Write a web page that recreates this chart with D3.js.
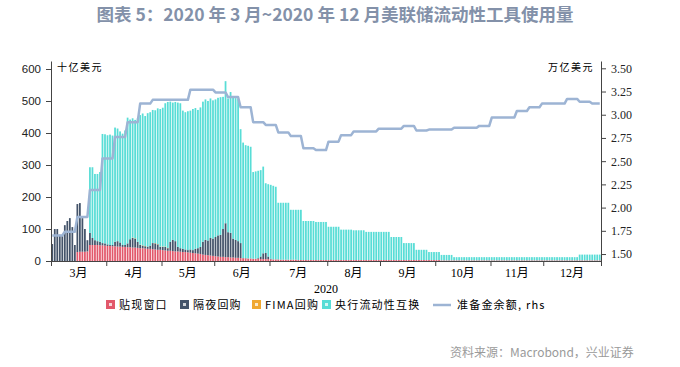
<!DOCTYPE html>
<html>
<head>
<meta charset="utf-8">
<script src="https://cdn.jsdelivr.net/npm/d3@7"></script>
<style>
body { margin: 0; background: #fff; }
svg { display: block; font-family: "Noto Sans CJK SC", sans-serif; }
</style>
</head>
<body>
<div id="root"></div>
<script>
const WIDTH = 680;
const HEIGHT = 367;
const plot = { left: 51, right: 601, top: 61, bottom: 261 };

// business days, 2 Mar 2020 - 31 Dec 2020 (one row per week)
const dates = d3.utcDays(new Date(Date.UTC(2020, 2, 1)), new Date(Date.UTC(2021, 0, 1)))
    .filter(d => d.getUTCDay() % 6 !== 0);

const monthLabels = ['3月', '4月', '5月', '6月', '7月', '8月', '9月', '10月', '11月', '12月'];
const yearLabel = '2020';

// 十亿美元
const discountWindow = [
    0,0,0,0,0,  0,0,0,0,0,  28,29,29,29,30,  50,50,50,50,49,
    49,48,47,47,46,  46,45,45,44,44,  43,43,42,42,41,  40,40,39,38,38,  37,36,35,35,34,
    33,32,32,31,30,  30,29,28,28,27,  26,25,24,23,22,  20,19,18,17,16,
    15,14,13,13,12,  12,11,11,10,10,  9,9,8,8,8,  7,7,7,6,6,
    6,6,5,5,5,  5,4,4,4,4,  4,4,4,3,3,  3,3,3,3,3,  3,3,3,3,3,
    3,3,3,3,3,  3,3,3,3,3,  3,3,3,3,3,  3,3,3,3,3,
    3,3,3,3,3,  3,3,3,3,3,  3,3,3,3,3,  3,3,3,3,3,  3,3,3,3,3,
    2,2,2,2,2,  2,2,2,2,2,  2,2,2,2,2,  2,2,2,2,2,
    2,2,2,2,2,  2,2,2,2,2,  2,2,2,2,2,  2,2,2,2,2,
    2,2,2,2,2,  2,2,2,2,2,  2,2,2,2,2,  2,2,2,2,2,  2,2,2,2
];

const overnightRepo = [
    53,100,100,82,80,  112,125,134,106,50,  150,152,105,71,35,  38,22,15,12,11,
    7,7,5,3,4,  14,17,13,6,6,  12,25,30,28,19,  10,8,7,7,10,  19,19,17,9,10,
    11,8,28,35,32,  14,11,10,8,7,  10,9,14,17,22,  40,47,46,55,54,
    60,66,69,87,106,  78,77,59,56,52,  47,0,1,0,0,  0,0,2,8,18,
    19,8,2,0,0,  0,0,0,0,0,  0,0,0,0,0,  0,0,0,0,0,  0,0,0,0,0,
    0,0,0,0,0,  0,0,0,0,0,  0,0,0,0,0,  0,0,0,0,0,
    0,0,0,0,0,  0,0,0,0,0,  0,0,0,0,0,  0,0,0,0,0,  0,0,0,0,0,
    0,0,0,0,0,  0,0,0,0,0,  0,0,0,0,0,  0,0,0,0,0,
    0,0,0,0,0,  0,0,0,0,0,  0,0,0,0,0,  0,0,0,0,0,
    0,0,0,0,0,  0,0,0,0,0,  0,0,0,0,0,  0,0,0,0,0,  0,0,0,0
];

const fimaRepo = [
    0,0,0,0,0,  0,0,0,0,0,  0,0,0,0,0,  0,0,0,0,0,
    0,0,0,0,0,  0,0,0,0,0,  0,0,1,1,0,  1,1,1,0,0,  0,1,1,1,1,
    1,1,0,0,0,  0,0,0,0,0,  0,0,0,0,0,  0,0,0,0,0,
    0,0,0,0,0,  0,0,0,0,0,  0,0,0,0,0,  0,0,0,0,0,
    0,0,0,0,0,  0,0,0,0,0,  0,0,0,0,0,  0,0,0,0,0,  0,0,0,0,0,
    0,0,0,0,0,  0,0,0,0,0,  0,0,0,0,0,  0,0,0,0,0,
    0,0,0,0,0,  0,0,0,0,0,  0,0,0,0,0,  0,0,0,0,0,  0,0,0,0,0,
    0,0,0,0,0,  0,0,0,0,0,  0,0,0,0,0,  0,0,0,0,0,
    0,0,0,0,0,  0,0,0,0,0,  0,0,0,0,0,  0,0,0,0,0,
    0,0,0,0,0,  0,0,0,0,0,  0,0,0,0,0,  0,0,0,0,0,  0,0,0,0
];

const cbSwaps = [
    0,0,0,0,0,  0,0,0,0,0,  0,0,0,0,0,  205,221,207,210,218,
    341,341,341,345,342,  357,352,347,348,358,  393,374,373,370,386,  405,412,406,417,417,  416,415,424,430,434,
    448,456,438,429,435,  451,453,432,429,434,  434,441,440,432,436,  438,439,436,436,432,
    430,430,430,413,444,  418,440,440,443,444,  356,361,353,352,349,  271,273,273,270,271,
    218,226,231,230,227,  177,178,178,178,178,  156,156,156,157,157,  122,122,122,122,122,  119,119,119,119,119,
    104,104,104,104,104,  95,95,95,95,95,  93,93,93,93,93,  88,88,88,88,88,
    88,88,88,88,88,  72,72,72,72,72,  53,53,53,53,53,  32,32,32,32,32,  25,25,25,25,25,
    17,17,17,17,17,  10,10,10,10,10,  10,10,10,10,10,  10,10,10,10,10,
    10,10,10,10,10,  10,10,10,10,10,  10,10,10,10,10,  10,10,10,10,10,
    10,10,10,10,10,  10,10,10,10,10,  10,10,10,10,10,  18,18,18,18,18,  18,18,18,18
];

// 万亿美元, rhs
const reserves = [
    1.70,1.70,1.70,1.70,1.70,  1.74,1.74,1.74,1.74,1.74,  1.90,1.90,1.90,1.90,1.90,  2.19,2.19,2.19,2.19,2.19,
    2.53,2.53,2.53,2.53,2.53,  2.76,2.76,2.76,2.76,2.76,  2.92,2.92,2.92,2.92,2.92,  3.12,3.12,3.12,3.12,3.12,  3.16,3.16,3.16,3.16,3.16,
    3.16,3.16,3.16,3.16,3.16,  3.16,3.16,3.16,3.16,3.16,  3.27,3.27,3.27,3.27,3.27,  3.27,3.27,3.27,3.27,3.27,
    3.24,3.24,3.24,3.24,3.24,  3.19,3.19,3.19,3.19,3.19,  3.08,3.08,3.08,3.08,3.08,  2.92,2.92,2.92,2.92,2.92,
    2.89,2.89,2.89,2.89,2.89,  2.81,2.81,2.81,2.81,2.81,  2.77,2.77,2.77,2.77,2.77,  2.64,2.64,2.64,2.64,2.64,  2.62,2.62,2.62,2.62,2.62,
    2.71,2.71,2.71,2.71,2.71,  2.78,2.78,2.78,2.78,2.78,  2.82,2.82,2.82,2.82,2.82,  2.82,2.82,2.82,2.82,2.82,
    2.85,2.85,2.85,2.85,2.85,  2.85,2.85,2.85,2.85,2.85,  2.88,2.88,2.88,2.88,2.88,  2.83,2.83,2.83,2.83,2.83,  2.84,2.84,2.84,2.84,2.84,
    2.84,2.84,2.84,2.84,2.84,  2.86,2.86,2.86,2.86,2.86,  2.86,2.86,2.86,2.86,2.86,  2.88,2.88,2.88,2.88,2.88,
    2.97,2.97,2.97,2.97,2.97,  2.97,2.97,2.97,2.97,2.97,  3.04,3.04,3.04,3.04,3.04,  3.08,3.08,3.08,3.08,3.08,
    3.12,3.12,3.12,3.12,3.12,  3.12,3.12,3.12,3.12,3.12,  3.17,3.17,3.17,3.17,3.17,  3.14,3.14,3.14,3.14,3.14,  3.12,3.12,3.12,3.12
];

const leftTicks = [0, 100, 200, 300, 400, 500, 600];
const rightTicks = [1.50, 1.75, 2.00, 2.25, 2.50, 2.75, 3.00, 3.25, 3.50];

const keys = ['discountWindow', 'overnightRepo', 'fimaRepo', 'cbSwaps'];
const names = ['贴现窗口', '隔夜回购', 'FIMA回购', '央行流动性互换'];
const colors = ['#e2586b', '#44546a', '#f0a830', '#58ddd6'];
const lineColor = '#9db4d4';

const table = dates.map((d, i) => ({
    i: i,
    date: d,
    discountWindow: discountWindow[i],
    overnightRepo: overnightRepo[i],
    fimaRepo: fimaRepo[i],
    cbSwaps: cbSwaps[i],
    reserves: reserves[i]
}));

const n = table.length;
const x = d3.scaleBand().domain(d3.range(n)).range([plot.left, plot.right])
    .paddingInner(0.3).paddingOuter(0.15);
const xIdx = d3.scaleLinear().domain([0, n]).range([plot.left, plot.right]);
const yL = d3.scaleLinear().domain([0, 625]).range([plot.bottom, plot.top]);
const yR = d3.scaleLinear().domain([1.425, 3.5786]).range([plot.bottom, plot.top]);

const svg = d3.select('#root').append('svg')
    .attr('width', WIDTH)
    .attr('height', HEIGHT);

svg.append('text')
    .attr('x', 335)
    .attr('y', 21)
    .attr('text-anchor', 'middle')
    .style('font-size', '17.5px')
    .style('font-weight', 700)
    .style('fill', '#8391a9')
    .style('white-space', 'pre')
    .text('图表 5：2020 年 3 月~2020 年 12 月美联储流动性工具使用量');

// stacked bars
const series = d3.stack().keys(keys)(table);
svg.append('g').selectAll('g')
    .data(series)
    .enter().append('g')
        .attr('fill', (d, i) => colors[i])
    .selectAll('rect')
    .data(d => d.filter(p => p[1] > p[0]))
    .enter().append('rect')
        .attr('x', d => x(d.data.i))
        .attr('width', x.bandwidth())
        .attr('y', d => yL(d[1]))
        .attr('height', d => yL(d[0]) - yL(d[1]));

// reserves line
const line = d3.line()
    .x(d => x(d.i) + x.bandwidth() / 2)
    .y(d => yR(d.reserves));
svg.append('path')
    .datum(table)
    .attr('fill', 'none')
    .attr('stroke', lineColor)
    .attr('stroke-width', 2.5)
    .attr('stroke-linejoin', 'round')
    .attr('d', line);

// axes
const monthStart = [];
table.forEach((d, i) => {
    if (i === 0 || d.date.getUTCMonth() !== table[i - 1].date.getUTCMonth()) monthStart.push(i);
});
const bounds = monthStart.concat([n]);

const xAxis = svg.append('g')
    .attr('class', 'axis')
    .attr('transform', `translate(0, ${plot.bottom})`)
    .call(d3.axisBottom(xIdx).tickValues(bounds).tickFormat('').tickSize(5).tickSizeOuter(0));

svg.append('g')
    .selectAll('text')
    .data(monthLabels)
    .enter().append('text')
        .attr('x', (d, i) => (xIdx(bounds[i]) + xIdx(bounds[i + 1])) / 2)
        .attr('y', 277)
        .attr('text-anchor', 'middle')
        .style('font-family', '"Liberation Serif", "Noto Sans CJK SC"')
        .style('font-size', '12px')
        .text(d => d);

svg.append('text')
    .attr('x', 326)
    .attr('y', 293)
    .attr('text-anchor', 'middle')
    .style('font-family', '"Liberation Serif"')
    .style('font-size', '12px')
    .text(yearLabel);

const leftAxis = svg.append('g')
    .attr('class', 'axis')
    .attr('transform', `translate(${plot.left}, 0)`)
    .call(d3.axisLeft(yL).tickValues(leftTicks).tickSize(5).tickSizeOuter(0).tickPadding(5));
leftAxis.selectAll('text')
    .style('font-family', '"Liberation Sans"')
    .style('font-size', '11.5px');

const rightAxis = svg.append('g')
    .attr('class', 'axis')
    .attr('transform', `translate(${plot.right}, 0)`)
    .call(d3.axisRight(yR).tickValues(rightTicks).tickFormat(d3.format('.2f')).tickSize(5).tickSizeOuter(0).tickPadding(5));
rightAxis.selectAll('text')
    .style('font-family', '"Liberation Serif"')
    .style('font-size', '12px');

svg.selectAll('.axis path, .axis line')
    .attr('stroke', '#444');
svg.selectAll('.axis text').attr('fill', '#222');
xAxis.raise();

svg.append('text')
    .attr('x', 57)
    .attr('y', 71)
    .style('font-size', '10px')
    .style('letter-spacing', '1.5px')
    .text('十亿美元');

svg.append('text')
    .attr('x', 594)
    .attr('y', 71)
    .attr('text-anchor', 'end')
    .style('font-size', '10px')
    .style('letter-spacing', '1.5px')
    .text('万亿美元');

// legend
const legendX = [106, 180, 252, 322];
const legend = svg.append('g').attr('transform', 'translate(0, 305)');
names.forEach((name, i) => {
    legend.append('rect')
        .attr('x', legendX[i])
        .attr('y', -5)
        .attr('width', 9)
        .attr('height', 9)
        .attr('fill', colors[i]);
    legend.append('rect')
        .attr('x', legendX[i] + 3)
        .attr('y', -2)
        .attr('width', 3)
        .attr('height', 3)
        .attr('fill', '#fff')
        .attr('opacity', 0.75);
    legend.append('text')
        .attr('x', legendX[i] + 13)
        .attr('y', 4)
        .style('font-size', '11px')
        .style('letter-spacing', '1.2px')
        .text(name);
});
legend.append('line')
    .attr('x1', 433).attr('x2', 451)
    .attr('y1', 0).attr('y2', 0)
    .attr('stroke', lineColor)
    .attr('stroke-width', 2.5);
legend.append('text')
    .attr('x', 457)
    .attr('y', 4)
    .style('font-size', '11px')
    .style('letter-spacing', '1.2px')
    .text('准备金余额, rhs');

svg.append('text')
    .attr('x', 450)
    .attr('y', 357)
    .style('font-size', '12px')
    .style('fill', '#9a9a9a')
    .text('资料来源：Macrobond，兴业证券');
</script>
</body>
</html>
